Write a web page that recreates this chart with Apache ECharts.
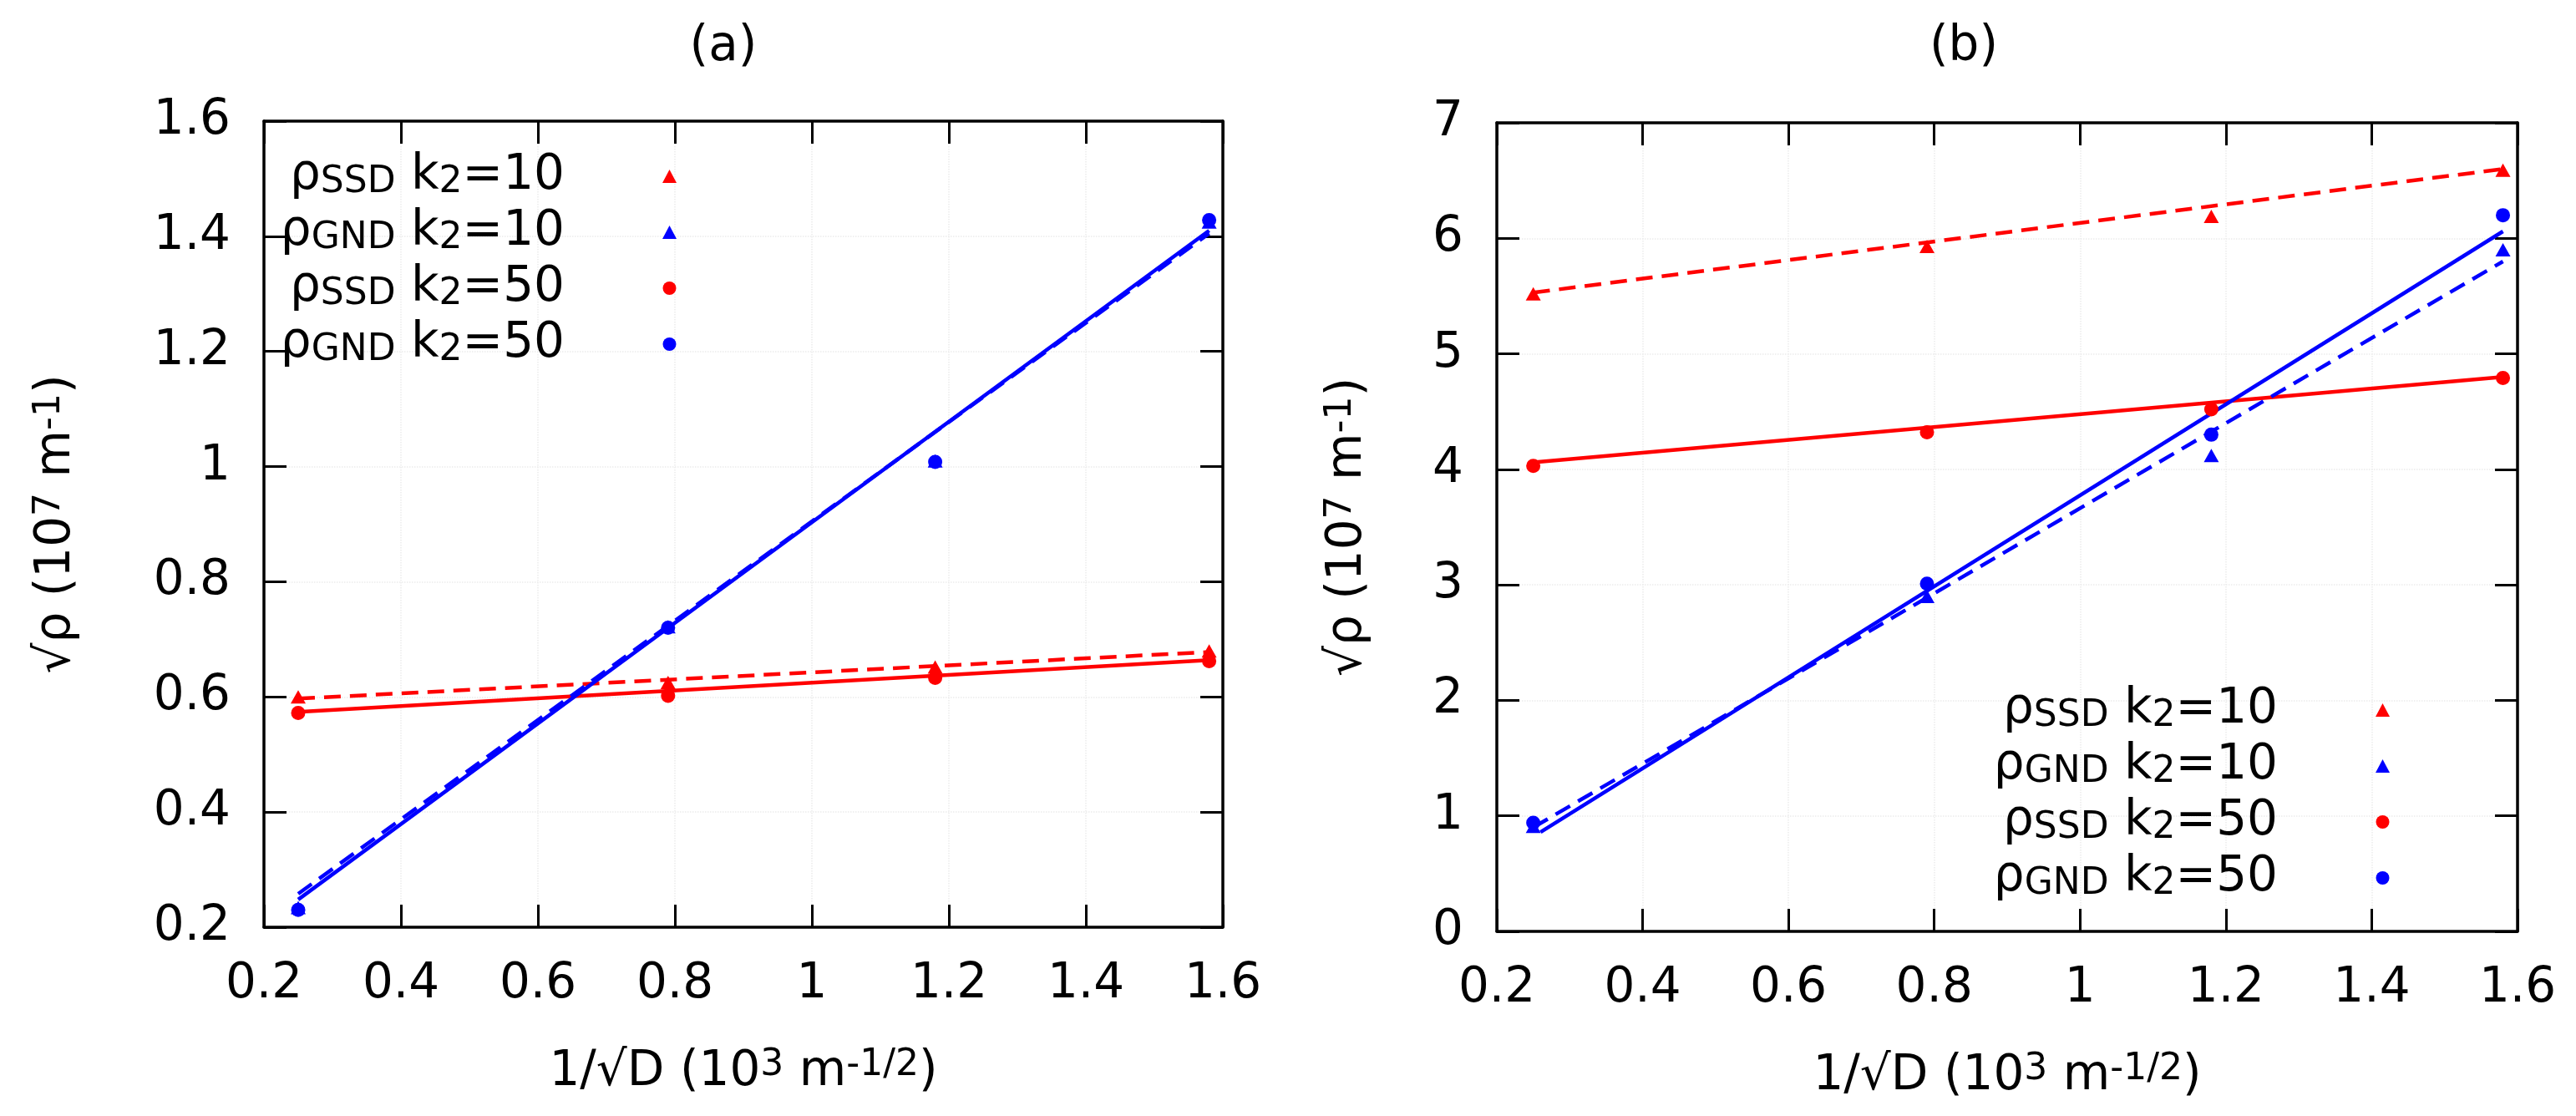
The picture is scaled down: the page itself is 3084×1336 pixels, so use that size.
<!DOCTYPE html>
<html>
<head>
<meta charset="utf-8">
<script src="https://cdn.jsdelivr.net/npm/echarts@6/dist/echarts.min.js"></script>
<style>
  html, body { margin: 0; padding: 0; background: #fff; }
  #chart { width: 3084px; height: 1336px; }
</style>
</head>
<body>
<div id="chart"></div>
<script>
// x values: 1/sqrt(D) in 10^3 m^-1/2
const xVals = [0.25, 0.79, 1.18, 1.58];

// axis ticks
const xTicks = [0.2, 0.4, 0.6, 0.8, 1, 1.2, 1.4, 1.6];
const aYTicks = [0.2, 0.4, 0.6, 0.8, 1, 1.2, 1.4, 1.6];
const bYTicks = [0, 1, 2, 3, 4, 5, 6, 7];

// panel (a) points
const aSSD10 = [0.600, 0.625, 0.652, 0.680];
const aGND10 = [0.234, 0.722, 1.010, 1.425];
const aSSD50 = [0.572, 0.602, 0.633, 0.662];
const aGND50 = [0.230, 0.720, 1.008, 1.428];

// panel (a) fitted lines (end points)
const aFitX = [0.25, 1.58];
const aFitSSD10 = [0.597, 0.678];
const aFitSSD50 = [0.574, 0.664];
const aFitGND10 = [0.258, 1.405];
const aFitGND50 = [0.248, 1.410];

// panel (b) points
const bSSD10 = [5.52, 5.93, 6.19, 6.59];
const bGND10 = [0.91, 2.90, 4.12, 5.90];
const bSSD50 = [4.03, 4.32, 4.52, 4.79];
const bGND50 = [0.94, 3.01, 4.30, 6.20];

// panel (b) fitted lines (end points)
const bFitX = [0.25, 1.58];
const bFitGND50X = [0.26, 1.58];
const bFitSSD10 = [5.53, 6.60];
const bFitSSD50 = [4.06, 4.80];
const bFitGND10 = [0.90, 5.80];
const bFitGND50 = [0.86, 6.06];

const seriesNames = ['SSD10', 'GND10', 'SSD50', 'GND50'];
const legendText = {
  SSD10: '{n|ρ}{s|SSD}{n| k}{s|2}{n|=10}{g|\u00a0}',
  GND10: '{n|ρ}{s|GND}{n| k}{s|2}{n|=10}{g|\u00a0}',
  SSD50: '{n|ρ}{s|SSD}{n| k}{s|2}{n|=50}{g|\u00a0}',
  GND50: '{n|ρ}{s|GND}{n| k}{s|2}{n|=50}{g|\u00a0}'
};

const FONT = "'DejaVu Sans', sans-serif";
const RED = '#ff0000';
const BLUE = '#0000ff';
const FS = 58;

// n: normal, s: subscript, p: superscript, g: gap before the key marker
const rich = {
  n: { fontFamily: FONT, fontSize: FS, lineHeight: 60, color: '#000' },
  s: { fontFamily: FONT, fontSize: 44, lineHeight: 24, verticalAlign: 'bottom', color: '#000' },
  p: { fontFamily: FONT, fontSize: 44, lineHeight: 23, verticalAlign: 'top', color: '#000' },
  g: { width: 112, lineHeight: 60 }
};

const pts = (xs, ys) => xs.map((x, i) => [x, ys[i]]);
const step = t => +(t[1] - t[0]).toFixed(6);

const chart = echarts.init(document.getElementById('chart'));

// one side of the frame; mirror axes carry ticks only
function xAxisFor(grid, pos, showLabel) {
  return {
    type: 'value', gridIndex: grid, position: pos,
    min: xTicks[0], max: xTicks[xTicks.length - 1], interval: step(xTicks),
    name: showLabel ? '{n|1/√D (10}{p|3}{n| m}{p|-1/2}{n|)}' : '',
    nameLocation: 'middle', nameGap: 144,
    nameTextStyle: { rich },
    axisLine: { show: true, onZero: false, lineStyle: { color: '#000', width: 3.5 } },
    axisTick: { show: true, inside: true, length: 27, lineStyle: { color: '#000', width: 3 } },
    axisLabel: { show: showLabel, fontFamily: FONT, fontSize: FS, color: '#000', margin: 40 },
    splitLine: { show: showLabel, lineStyle: { color: '#ebebeb', width: 1.5, type: 'dotted' } }
  };
}

function yAxisFor(grid, pos, ticks, showLabel, gap) {
  return {
    type: 'value', gridIndex: grid, position: pos,
    min: ticks[0], max: ticks[ticks.length - 1], interval: step(ticks),
    name: showLabel ? '{n|√ρ (10}{p|7}{n| m}{p|-1}{n|)}' : '',
    nameLocation: 'middle', nameGap: gap,
    nameTextStyle: { rich },
    axisLine: { show: true, onZero: false, lineStyle: { color: '#000', width: 3.5 } },
    axisTick: { show: true, inside: true, length: 27, lineStyle: { color: '#000', width: 3 } },
    axisLabel: { show: showLabel, fontFamily: FONT, fontSize: FS, color: '#000', margin: 40 },
    splitLine: { show: showLabel, lineStyle: { color: '#ebebeb', width: 1.5, type: 'dotted' } }
  };
}

function pointSeries(name, ax, ys, symbol, color) {
  return {
    type: 'scatter', name, xAxisIndex: ax, yAxisIndex: ax,
    symbol, symbolSize: symbol === 'circle' ? 17 : [18, 16],
    itemStyle: { color, opacity: 1 },
    data: pts(xVals, ys), z: 3, silent: true
  };
}

function fitSeries(ax, xs, ys, color, dashed) {
  return {
    type: 'line', xAxisIndex: ax, yAxisIndex: ax,
    symbol: 'none', silent: true, z: 2,
    lineStyle: { color, width: 4.5, type: dashed ? [20, 11] : 'solid' },
    data: pts(xs, ys)
  };
}

function legendFor(right, top) {
  return {
    data: seriesNames, orient: 'vertical', align: 'right',
    right, top, padding: 0, itemGap: 8,
    itemWidth: 17, itemHeight: 16, selectedMode: false,
    formatter: name => legendText[name],
    itemStyle: { opacity: 1 },
    textStyle: { fontFamily: FONT, fontSize: FS, color: '#000', rich }
  };
}

chart.setOption({
  animation: false,
  backgroundColor: '#fff',
  graphic: [
    { type: 'text', x: 866, y: 57, style: { text: '(a)', fontFamily: FONT, fontSize: FS, fill: '#000', align: 'center', verticalAlign: 'middle' } },
    { type: 'text', x: 2351, y: 57, style: { text: '(b)', fontFamily: FONT, fontSize: FS, fill: '#000', align: 'center', verticalAlign: 'middle' } }
  ],
  grid: [
    { left: 316, top: 145, width: 1148, height: 965, outerBoundsMode: 'none' },
    { left: 1792, top: 147, width: 1222, height: 968, outerBoundsMode: 'none' }
  ],
  xAxis: [
    xAxisFor(0, 'bottom', true), xAxisFor(0, 'top', false),
    xAxisFor(1, 'bottom', true), xAxisFor(1, 'top', false)
  ],
  yAxis: [
    yAxisFor(0, 'left', aYTicks, true, 218), yAxisFor(0, 'right', aYTicks, false, 0),
    yAxisFor(1, 'left', bYTicks, true, 148), yAxisFor(1, 'right', bYTicks, false, 0)
  ],
  legend: [legendFor(2274, 182), legendFor(223, 821)],
  series: [
    // panel (a)
    fitSeries(0, aFitX, aFitSSD10, RED, true),
    fitSeries(0, aFitX, aFitSSD50, RED, false),
    fitSeries(0, aFitX, aFitGND10, BLUE, true),
    fitSeries(0, aFitX, aFitGND50, BLUE, false),
    pointSeries('SSD10', 0, aSSD10, 'triangle', RED),
    pointSeries('GND10', 0, aGND10, 'triangle', BLUE),
    pointSeries('SSD50', 0, aSSD50, 'circle', RED),
    pointSeries('GND50', 0, aGND50, 'circle', BLUE),
    // panel (b), axes 2
    fitSeries(2, bFitX, bFitSSD10, RED, true),
    fitSeries(2, bFitX, bFitSSD50, RED, false),
    fitSeries(2, bFitX, bFitGND10, BLUE, true),
    fitSeries(2, bFitGND50X, bFitGND50, BLUE, false),
    pointSeries('SSD10', 2, bSSD10, 'triangle', RED),
    pointSeries('GND10', 2, bGND10, 'triangle', BLUE),
    pointSeries('SSD50', 2, bSSD50, 'circle', RED),
    pointSeries('GND50', 2, bGND50, 'circle', BLUE)
  ]
});
</script>
</body>
</html>
